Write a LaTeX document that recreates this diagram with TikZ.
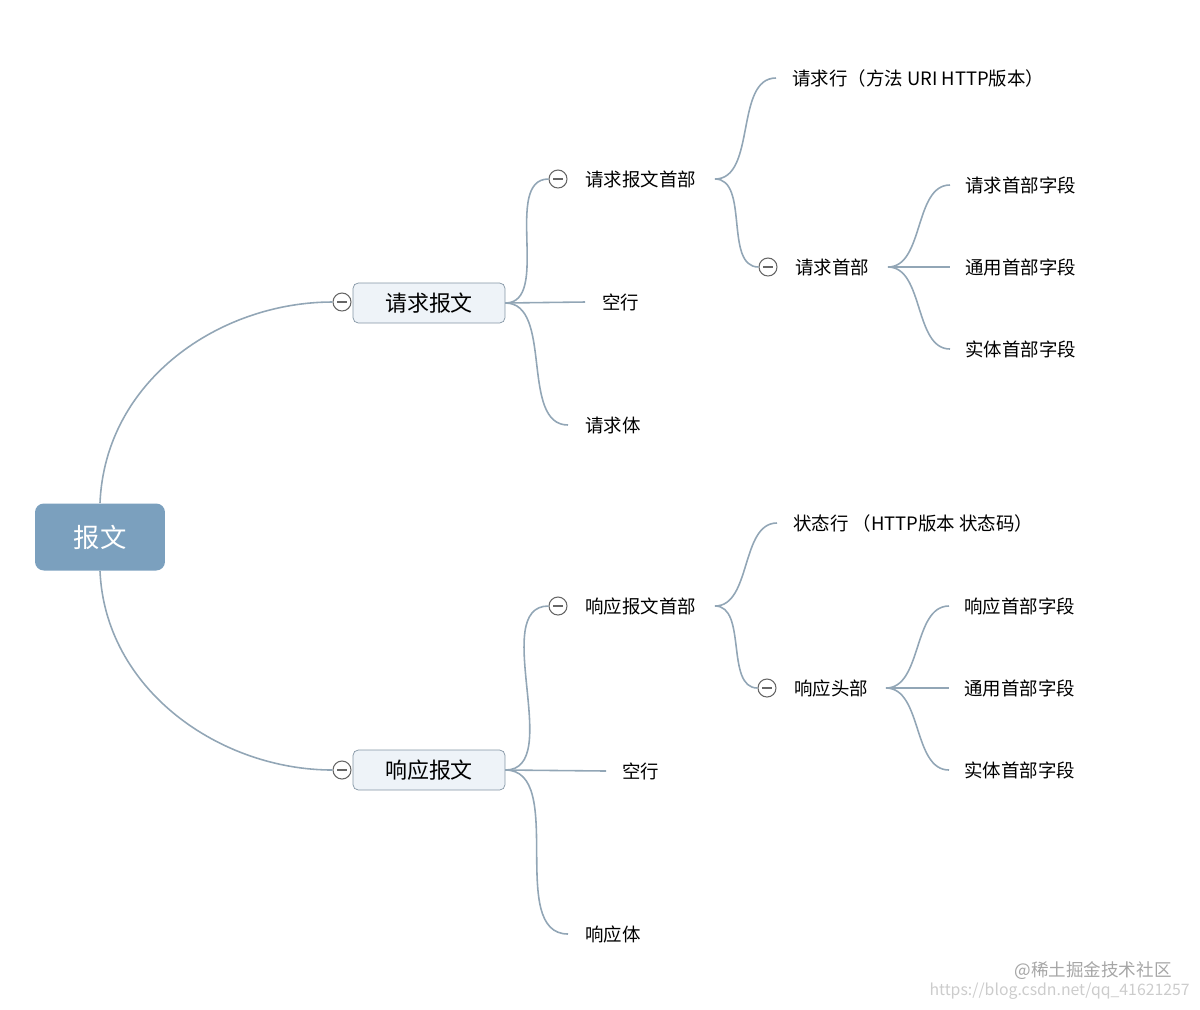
\documentclass[tikz,border=0pt]{standalone}
\usepackage{fontspec}
\setmainfont{Noto Sans CJK SC}
\begin{document}
\begin{tikzpicture}[x=0.02cm,y=-0.02cm,
  ln/.style={draw=lnc,line width=0.9pt},
  lbl/.style={anchor=west,inner sep=0pt,font=\fontsize{10.5pt}{12pt}\selectfont},
  mid/.style={draw=lnc!90!black,fill=boxfill,rounded corners=3pt,minimum width=3.04cm,minimum height=0.8cm,font=\fontsize{12.5pt}{14pt}\selectfont,inner sep=0pt},
  mn/.style={circle,draw=gray!80!black,fill=white,minimum size=0.36cm,inner sep=0pt,line width=0.6pt,path picture={\draw[gray!80!black,line width=0.6pt] ([xshift=-0.1cm]path picture bounding box.center)--([xshift=0.1cm]path picture bounding box.center);}},
  br/.style={ln,out=0,in=180,looseness=0.9}]
\definecolor{lnc}{HTML}{92A6B6}
\definecolor{boxfill}{HTML}{EEF3F8}
\definecolor{rootc}{HTML}{7BA0BE}
\useasboundingbox (0,0) rectangle (1200,1009);
% root
\node[fill=rootc,rounded corners=5pt,minimum width=2.6cm,minimum height=1.34cm,text=white,font=\fontsize{15pt}{17pt}\selectfont] (root) at (100,537) {报文};
% level 1
\node[mid] (req) at (429,303) {请求报文};
\node[mid] (res) at (429,770) {响应报文};
\node[mn] (reqm) at (342,302) {};
\node[mn] (resm) at (342,770) {};
\draw[ln] (root.north) .. controls (105,380) and (220,302) .. (reqm.west);
\draw[ln] (root.south) .. controls (105,690) and (220,770) .. (resm.west);
% request children
\node[mn] (rhm) at (558,179) {};
\node[lbl] (rh) at (585,179) {请求报文首部};
\node[lbl] (rb) at (602,302) {空行};
\node[lbl] (rbody) at (585,425) {请求体};
\coordinate (rbe) at (585,302);
\coordinate (rbodye) at (568,425);
\draw[br] (req.east) to (rhm.west);
\draw[ln] (req.east) -- (rbe);
\draw[br] (req.east) to (rbodye);
\node[lbl] (rl) at (792,78) {请求行（方法 URI HTTP版本）};
\node[mn] (rhdm) at (768,267) {};
\node[lbl] (rhd) at (795,267) {请求首部};
\coordinate (rhe) at (715,179);
\coordinate (rle) at (776,78);
\draw[br] (rhe) to (rle);
\draw[br] (rhe) to (rhdm.west);
\coordinate (rhde) at (888,267);
\node[lbl] (f1) at (965,185) {请求首部字段};
\node[lbl] (f2) at (965,267) {通用首部字段};
\node[lbl] (f3) at (965,349) {实体首部字段};
\coordinate (f1e) at (950,185);
\coordinate (f2e) at (950,267);
\coordinate (f3e) at (950,349);
\draw[br] (rhde) to (f1e);
\draw[ln] (rhde) -- (f2e);
\draw[br] (rhde) to (f3e);
% response children
\node[mn] (shm) at (558,606) {};
\node[lbl] (sh) at (585,606) {响应报文首部};
\node[lbl] (sb) at (622,771) {空行};
\node[lbl] (sbody) at (585,934) {响应体};
\coordinate (sbe) at (606,771);
\coordinate (sbodye) at (568,934);
\draw[br] (res.east) to (shm.west);
\draw[ln] (res.east) -- (sbe);
\draw[br] (res.east) to (sbodye);
\node[lbl] (sl) at (793,523) {状态行 （HTTP版本 状态码）};
\node[mn] (shdm) at (767,688) {};
\node[lbl] (shd) at (794,688) {响应头部};
\coordinate (she) at (715,606);
\coordinate (sle) at (777,523);
\draw[br] (she) to (sle);
\draw[br] (she) to (shdm.west);
\coordinate (shde) at (886,688);
\node[lbl] (g1) at (964,606) {响应首部字段};
\node[lbl] (g2) at (964,688) {通用首部字段};
\node[lbl] (g3) at (964,770) {实体首部字段};
\coordinate (g1e) at (949,606);
\coordinate (g2e) at (949,688);
\coordinate (g3e) at (949,770);
\draw[br] (shde) to (g1e);
\draw[ln] (shde) -- (g2e);
\draw[br] (shde) to (g3e);
% watermark
\node[anchor=east,inner sep=0pt,text=gray!70,font=\fontsize{10pt}{12pt}\selectfont] (wm1) at (1172,971) {@稀土掘金技术社区};
\node[anchor=east,inner sep=0pt,text=gray!40,font=\fontsize{9pt}{11pt}\selectfont] (wm2) at (1190,991) {https://blog.csdn.net/qq\_41621257};
\end{tikzpicture}
\end{document}
